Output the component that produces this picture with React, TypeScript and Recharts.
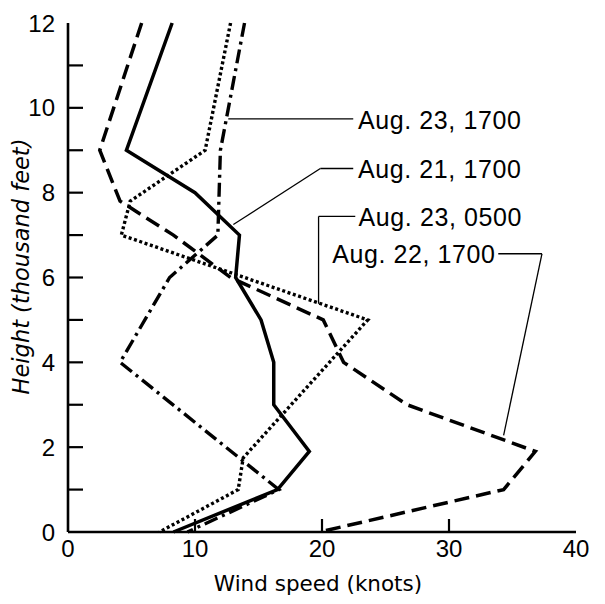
import React from 'react';
import { ScatterChart, Scatter, XAxis, YAxis, ReferenceLine, ReferenceDot } from 'recharts';

// Heights (thousand feet) and wind speeds (knots) for each sounding
const heightsAug21 = [12, 9, 8, 7, 6, 5, 4, 3, 1.9, 1, 0];
const speedsAug21 = [8.2, 4.6, 10.0, 13.5, 13.2, 15.2, 16.2, 16.2, 19.0, 16.5, 8.3];

const heightsAug22 = [12, 9, 7.8, 7, 6, 5, 4, 3, 1.9, 1, 0];
const speedsAug22 = [5.8, 2.5, 4.1, 8.3, 12.8, 20.1, 21.7, 26.7, 36.8, 34.3, 19.8];

const heightsAug23a = [12, 9, 7.8, 7, 5, 1.75, 1, 0];
const speedsAug23a = [12.8, 10.8, 4.9, 4.2, 23.6, 13.8, 13.4, 7.2];

const heightsAug23b = [12, 9, 7, 6, 4, 1, 0];
const speedsAug23b = [13.9, 12.0, 11.8, 8.0, 4.1, 16.6, 9.4];

const xTicks = [0, 10, 20, 30, 40];
const yTicks = [0, 1, 2, 3, 4, 5, 6, 7, 8, 9, 10, 11, 12];
const yTickLabels = [0, 2, 4, 6, 8, 10, 12];
const xInnerTicks = [10, 20, 30];

// Annotation labels and their leader lines (data coordinates)
const labelTexts = ['Aug. 23, 1700', 'Aug. 21, 1700', 'Aug. 23, 0500', 'Aug. 22, 1700'];
const labelX = [22.75, 22.75, 22.8, 33.75];
const labelY = [9.72, 8.55, 7.43, 6.56];
const labelSide = ['right', 'right', 'right', 'left'];
const leaders = [
  [{ x: 12.62, y: 9.74 }, { x: 22.46, y: 9.74 }],
  [{ x: 13.02, y: 7.25 }, { x: 19.87, y: 8.57 }, { x: 22.46, y: 8.57 }],
  [{ x: 19.73, y: 5.38 }, { x: 19.73, y: 7.44 }, { x: 22.62, y: 7.44 }],
  [{ x: 33.88, y: 6.56 }, { x: 37.32, y: 6.56 }, { x: 34.3, y: 2.28 }],
];

const toPoints = (speeds: number[], heights: number[]) =>
  speeds.map((x, i) => ({ x, y: heights[i] }));

const LABEL_FONT = '"Liberation Sans", Arial, sans-serif';
const AXIS_FONT = '"DejaVu Sans", sans-serif';

const BottomTick = (props: any) => {
  const { x, y, payload } = props;
  const v = payload.value;
  return (
    <g>
      {xInnerTicks.includes(v) && (
        <line x1={x} y1={y} x2={x} y2={y - 13} stroke="#000" strokeWidth={2.2} />
      )}
      <text x={x} y={y + 25} textAnchor="middle" fontSize={24} fontFamily={LABEL_FONT} fill="#000">
        {v}
      </text>
    </g>
  );
};

const TopTick = (props: any) => {
  const { x, y, payload } = props;
  const v = payload.value;
  if (!xInnerTicks.includes(v)) return <g />;
  return <line x1={x} y1={y} x2={x} y2={y + 19} stroke="#000" strokeWidth={2.2} />;
};

const LeftTick = (props: any) => {
  const { x, y, payload } = props;
  const v = payload.value;
  return (
    <g>
      {v > 0 && v < 12 && <line x1={x} y1={y} x2={x + 15} y2={y} stroke="#000" strokeWidth={2.2} />}
      {yTickLabels.includes(v) && (
        <text x={x - 13} y={y + 8.5} textAnchor="end" fontSize={24} fontFamily={LABEL_FONT} fill="#000">
          {v}
        </text>
      )}
    </g>
  );
};

const RightTick = (props: any) => {
  const { x, y, payload } = props;
  const v = payload.value;
  if (v <= 0 || v >= 12) return <g />;
  return <line x1={x} y1={y} x2={x - 16} y2={y} stroke="#000" strokeWidth={2.2} />;
};

const noShape = () => <g />;

const axisLine = { stroke: '#000', strokeWidth: 2.6 };

export default function App() {
  const series = [
    { data: toPoints(speedsAug21, heightsAug21), dash: undefined, width: 3.5 },
    { data: toPoints(speedsAug22, heightsAug22), dash: '15 7', width: 3.5 },
    { data: toPoints(speedsAug23a, heightsAug23a), dash: '3 2.6', width: 3.4 },
    { data: toPoints(speedsAug23b, heightsAug23b), dash: '14 5 3 5', width: 3.4 },
  ];
  return (
    <ScatterChart width={597} height={596} margin={{ top: 15, right: 29, left: 0, bottom: 0 }}>
      <XAxis
        xAxisId={0}
        dataKey="x"
        type="number"
        domain={[0, 40]}
        ticks={xTicks}
        interval={0}
        height={72}
        tickSize={0}
        tickMargin={0}
        tickLine={false}
        axisLine={axisLine}
        tick={BottomTick}
        label={{
          content: (p: any) => {
            const vb = p.viewBox || { x: 60, y: 524, width: 508, height: 72 };
            return (
              <text
                x={vb.x + vb.width / 2 - 4}
                y={vb.y + 59}
                textAnchor="middle"
                fontSize={21.5}
                fontFamily={AXIS_FONT}
                fill="#000"
              >
                Wind speed (knots)
              </text>
            );
          },
        }}
      />
      <XAxis
        xAxisId="top"
        orientation="top"
        dataKey="x"
        type="number"
        domain={[0, 40]}
        ticks={xTicks}
        interval={0}
        height={0}
        tickSize={0}
        tickMargin={0}
        tickLine={false}
        axisLine={axisLine}
        tick={TopTick}
      />
      <YAxis
        yAxisId={0}
        dataKey="y"
        type="number"
        domain={[0, 12]}
        ticks={yTicks}
        interval={0}
        width={60}
        tickSize={0}
        tickMargin={0}
        tickLine={false}
        axisLine={axisLine}
        tick={LeftTick}
        label={{
          content: (p: any) => {
            const vb = p.viewBox || { x: 0, y: 15, width: 60, height: 509 };
            const cx = 20.5;
            const cy = vb.y + vb.height / 2 - 11;
            return (
              <text
                x={cx}
                y={cy}
                transform={`rotate(-90 ${cx} ${cy})`}
                textAnchor="middle"
                fontSize={22.5}
                fontStyle="italic"
                fontFamily={AXIS_FONT}
                fill="#000"
              >
                Height (thousand feet)
              </text>
            );
          },
        }}
      />
      <YAxis
        yAxisId="right"
        orientation="right"
        dataKey="y"
        type="number"
        domain={[0, 12]}
        ticks={yTicks}
        interval={0}
        width={0}
        tickSize={0}
        tickMargin={0}
        tickLine={false}
        axisLine={axisLine}
        tick={RightTick}
      />
      {series.map((s, i) => (
        <Scatter
          key={i}
          data={s.data}
          xAxisId={0}
          yAxisId={0}
          isAnimationActive={false}
          shape={noShape}
          line={{ stroke: '#000', strokeWidth: s.width, strokeDasharray: s.dash, fill: 'none' }}
          lineType="joint"
        />
      ))}
      {leaders.flatMap((pts, i) =>
        pts.slice(1).map((p, j) => (
          <ReferenceLine
            key={`l${i}-${j}`}
            xAxisId={0}
            yAxisId={0}
            segment={[pts[j], p]}
            stroke="#000"
            strokeWidth={1.3}
            ifOverflow="visible"
          />
        ))
      )}
      {labelTexts.map((t, i) => (
        <ReferenceDot
          key={`t${i}`}
          xAxisId={0}
          yAxisId={0}
          x={labelX[i]}
          y={labelY[i]}
          r={1}
          fill="none"
          stroke="none"
          ifOverflow="visible"
          label={{
            value: t,
            position: labelSide[i] as any,
            offset: 0,
            fontSize: 25,
            letterSpacing: 0.6,
            fontFamily: LABEL_FONT,
            fill: '#000',
          }}
        />
      ))}
    </ScatterChart>
  );
}
